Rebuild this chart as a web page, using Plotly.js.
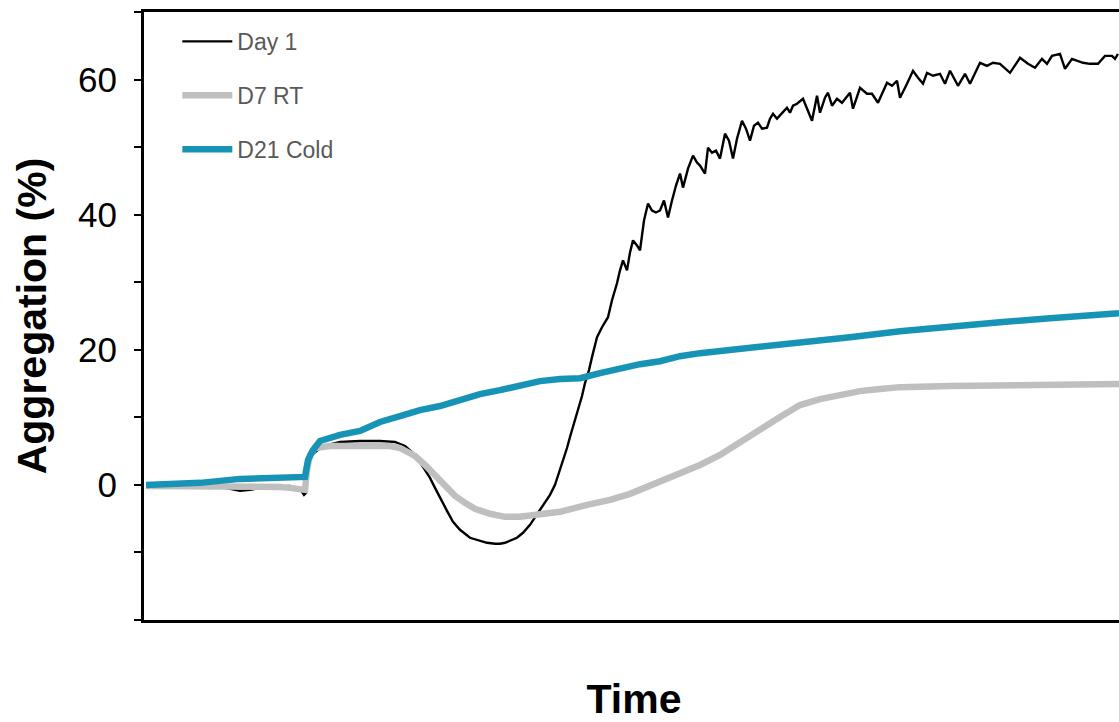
<!DOCTYPE html>
<html>
<head>
<meta charset="utf-8">
<script src="https://cdn.plot.ly/plotly-3.0.1.min.js"></script>
<style>
  html, body { margin: 0; padding: 0; background: #ffffff; overflow: hidden; }
  #chart { width: 1130px; height: 722px; }
</style>
</head>
<body>
<div id="chart"></div>
<script>
// Time (arbitrary units) and aggregation (%)
const seriesNames = ["Day 1", "D7 RT", "D21 Cold"];

const timeDay1 = [1, 18, 38, 48, 53, 60.5, 73, 78, 80, 81, 82, 84, 88, 91.5, 98, 108, 118, 125.5, 130.5, 134,
  136.5, 139.5, 143, 145.5, 148, 151.5, 154.5, 158, 163, 168, 171.5, 175.5, 178, 180.5, 183, 186.5, 189.5, 193, 196, 199.5,
  203, 205.5, 208, 209.5, 211.5, 213, 215, 217, 219, 220.5, 222.5, 224, 226.5, 229, 230.5, 232, 234, 236.5, 238, 239.5,
  241.5, 243, 244.5, 246.5, 248, 250, 252, 254, 256, 258, 260, 262, 264, 266, 268, 269.5, 272, 274.5, 276.5, 278,
  280.5, 282, 284, 286, 288, 290.5, 292.5, 294.5, 296.5, 299, 301, 303, 305, 307, 309, 311.5, 313, 314.5, 316.5, 318,
  320, 321.5, 323, 324.5, 326.5, 328, 329.5, 334, 336.5, 338, 340.5, 342, 344, 346.5, 349, 353, 354.5, 358, 361.5, 364,
  367, 371.5, 374, 376.5, 378, 381.5, 384.5, 387, 389.5, 391.5, 394.5, 398, 400.5, 403, 407, 410.5, 413, 418, 421.5, 424.5,
  428, 433, 438, 442, 445.5, 449, 451.5, 454, 458, 460.5, 464, 469.5, 473, 477, 480.5, 484, 485.5, 487];
const day1 = [0, -0.15, -0.3, -0.89, -0.74, -0.3, -0.15, -0.59, -1.48, -1.18, 3.4, 4.43, 5.46, 5.9, 6.35, 6.5, 6.5, 6.35, 5.76, 4.87,
  3.99, 2.66, 1.03, -0.44, -1.92, -3.84, -5.46, -6.65, -7.83, -8.27, -8.57, -8.71, -8.71, -8.57, -8.27, -7.83, -7.09, -5.91, -4.58, -2.95,
  -1.48, 0, 2.22, 3.69, 5.46, 7.09, 9.01, 11.08, 13.15, 15.07, 16.99, 18.91, 21.86, 23.34, 24.08, 24.82, 27.33, 29.84, 31.76, 33.23,
  31.76, 34.41, 36.19, 35.45, 34.71, 39.14, 41.65, 40.62, 40.32, 40.62, 42.09, 39.58, 42.09, 44.31, 46.08, 44.01, 46.82, 48.74, 47.71, 47.26,
  46.08, 49.92, 49.18, 49.48, 48.3, 51.99, 50.96, 48.3, 51.25, 53.91, 52.73, 50.96, 53.17, 53.62, 52.73, 52.88, 54.21, 54.94, 54.21, 54.65,
  55.39, 55.83, 55.09, 56.13, 56.42, 56.86, 57.16, 53.91, 57.6, 55.09, 57.31, 58.05, 56.13, 57.16, 56.57, 58.05, 55.68, 58.78, 57.9, 57.9,
  56.57, 59.52, 59.08, 59.82, 57.31, 59.38, 61.3, 60.26, 59.38, 61.0, 60.56, 60.85, 59.38, 61.3, 59.08, 60.85, 59.38, 62.48, 62.03, 62.48,
  62.33, 61.0, 63.22, 62.33, 61.74, 63.07, 62.33, 63.51, 63.81, 61.59, 63.07, 62.48, 62.33, 62.33, 63.51, 63.51, 63.07, 63.81];

const timeD7 = [1, 28, 53, 68, 73, 78, 80.5, 81.5, 83, 85.5, 93, 108, 123, 128, 131.5, 135.5, 140.5, 145.5, 150.5, 155.5,
  160.5, 165.5, 173, 180.5, 188, 198, 208, 221.5, 233, 243, 250.5, 258, 268, 278, 288, 298, 308, 318, 328, 338,
  348, 358, 368, 378, 403, 428, 453, 487.5];
const d7RT = [-0.15, -0.15, -0.3, -0.3, -0.44, -0.59, -0.74, 2.22, 4.43, 5.46, 5.76, 5.76, 5.76, 5.46, 5.02, 4.28, 2.95, 1.33, -0.3, -1.62,
  -2.66, -3.54, -4.28, -4.73, -4.73, -4.43, -3.99, -2.95, -2.22, -1.33, -0.44, 0.44, 1.62, 2.95, 4.43, 6.35, 8.12, 10.04, 11.82, 12.7,
  13.29, 13.88, 14.18, 14.47, 14.62, 14.77, 14.77, 14.92];

const timeD21 = [1, 28, 48, 60.5, 73, 80.5, 82, 84.5, 88, 98, 108, 118, 128, 138, 148, 158, 168, 178, 188, 198,
  208, 218, 228, 238, 248, 258, 268, 278, 303, 328, 353, 378, 403, 428, 453, 478, 487.5];
const d21Cold = [0, 0.3, 0.89, 1.03, 1.1, 1.18, 3.69, 5.17, 6.5, 7.4, 7.98, 9.31, 10.19, 11.08, 11.67, 12.55, 13.44, 14.03, 14.62, 15.36,
  15.66, 15.8, 16.54, 17.28, 17.87, 18.31, 19.05, 19.5, 20.23, 20.97, 21.86, 22.75, 23.48, 24.08, 24.67, 25.26, 25.4];

const yTickVals = [0, 20, 40, 60];
const yTickText = ["0", "20", "40", "60"];

const traces = [
  { x: timeDay1, y: day1, name: seriesNames[0], type: "scatter", mode: "lines", legendgroup: "a",
    line: { color: "#000000", width: 2.4 } },
  { x: timeD7, y: d7RT, name: seriesNames[1], type: "scatter", mode: "lines", legendgroup: "b",
    line: { color: "#BFBFBF", width: 6.5 } },
  { x: timeD21, y: d21Cold, name: seriesNames[2], type: "scatter", mode: "lines", legendgroup: "c",
    line: { color: "#1794B5", width: 6.5 } }
];

const layout = {
  width: 1130, height: 722,
  margin: { l: 144, r: 6, t: 12, b: 102 },
  paper_bgcolor: "#ffffff", plot_bgcolor: "#ffffff",
  showlegend: true,
  legend: {
    x: 0.034, y: 0.987, xanchor: "left", yanchor: "top",
    bgcolor: "rgba(0,0,0,0)", borderwidth: 0,
    traceorder: "grouped", tracegroupgap: 21, itemwidth: 50,
    font: { family: "Liberation Sans, Arial, sans-serif", size: 23, color: "#595959" }
  },
  xaxis: {
    range: [0, 490], showgrid: false, zeroline: false,
    showline: true, linecolor: "#000000", linewidth: 3, mirror: true,
    ticks: "", showticklabels: false, automargin: false,
    title: { text: "Time", standoff: 66, font: { family: "Liberation Sans, Arial, sans-serif", size: 41, weight: "bold", color: "#000000" } }
  },
  yaxis: {
    range: [-20, 70], showgrid: false, zeroline: false,
    showline: true, linecolor: "#000000", linewidth: 3,
    tickmode: "array", tickvals: yTickVals, ticktext: yTickText,
    ticks: "outside", ticklen: 7, tickwidth: 2, tickcolor: "#000000",
    minor: { tick0: 0, dtick: 10, ticks: "outside", ticklen: 7, tickwidth: 2, tickcolor: "#000000" },
    ticklabelstandoff: 10,
    tickfont: { family: "Liberation Sans, Arial, sans-serif", size: 35, color: "#000000" },
    automargin: false,
    title: { text: "Aggregation (%)", standoff: 19, font: { family: "Liberation Sans, Arial, sans-serif", size: 41, weight: "bold", color: "#000000" } }
  }
};

Plotly.newPlot("chart", traces, layout, { displayModeBar: false, staticPlot: true });
</script>
</body>
</html>
